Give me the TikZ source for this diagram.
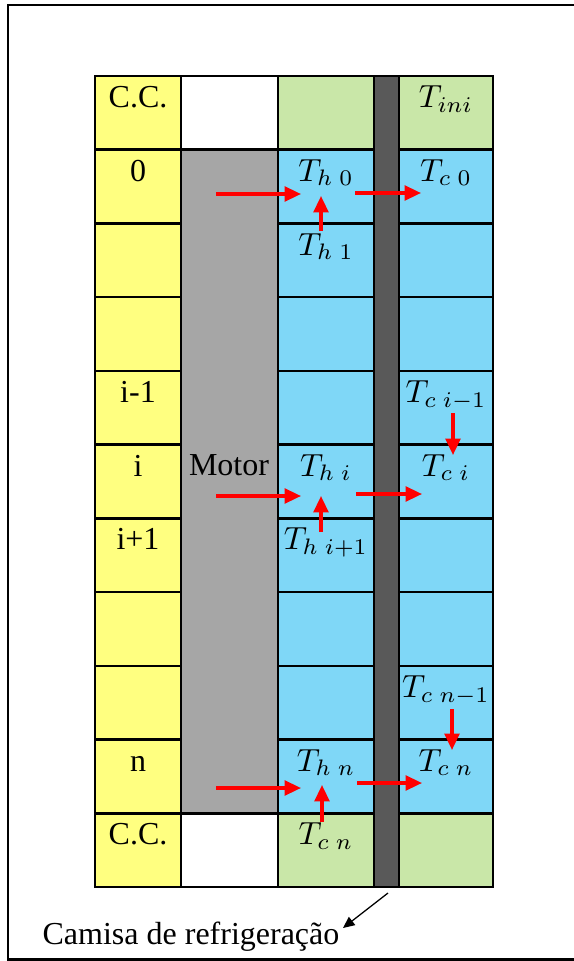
\documentclass[tikz,border=0pt]{standalone}
\usepackage{fontspec}
\setmainfont{Liberation Serif}
\usetikzlibrary{arrows.meta}
\definecolor{ccyellow}{HTML}{FFFF80}
\definecolor{ccgreen}{HTML}{C9E7A8}
\definecolor{ccblue}{HTML}{7FD7F7}
\definecolor{motorgray}{HTML}{A6A6A6}
\definecolor{jacketgray}{HTML}{595959}
\definecolor{arrowred}{HTML}{FF0000}
\tikzset{
  gridline/.style={line width=0.8pt},
  framebox/.style={line width=0.65pt},
  lbl/.style={anchor=base, inner sep=0pt},
  heat/.style={draw=arrowred, line width=0.95pt, -{Triangle[length=5.1pt,width=4.6pt]}},
  pointer/.style={draw=black, line width=0.4pt, -{Triangle[length=3.6pt,width=3.2pt]}},
}
\begin{document}
\begin{tikzpicture}[x=0.3125pt,y=-0.3125pt]
\useasboundingbox (0,0) rectangle (574,961);
% outer frame (right side lies outside the picture)
\draw[framebox] (620,5) -- (8,5) -- (8,959.5) -- (620,959.5);
% fills
\def\rh{73.727}
\fill[ccyellow] (95,76) rectangle (181,887);
\fill[motorgray] (181,{76+\rh}) rectangle (278,{76+10*\rh});
\fill[ccgreen] (278,76) rectangle (374,{76+\rh});
\fill[ccblue] (278,{76+\rh}) rectangle (374,{76+10*\rh});
\fill[ccgreen] (278,{76+10*\rh}) rectangle (374,887);
\fill[jacketgray] (374,76) rectangle (399,887);
\fill[ccgreen] (399,76) rectangle (493,{76+\rh});
\fill[ccblue] (399,{76+\rh}) rectangle (493,{76+10*\rh});
\fill[ccgreen] (399,{76+10*\rh}) rectangle (493,887);
% grid lines
\foreach \k in {1,...,10}{
  \draw[gridline] (95,{76+\k*\rh}) -- (181,{76+\k*\rh});
  \draw[gridline] (278,{76+\k*\rh}) -- (374,{76+\k*\rh});
  \draw[gridline] (399,{76+\k*\rh}) -- (493,{76+\k*\rh});
}
\draw[gridline] (181,{76+\rh}) -- (278,{76+\rh});
\draw[gridline] (181,{76+10*\rh}) -- (278,{76+10*\rh});
\foreach \xx in {181,278,374,399}{
  \draw[gridline] (\xx,76) -- (\xx,887);
}
\draw[gridline] (95,76) rectangle (493,887);
% left column labels
\node[lbl] (cctop) at (138,107.5) {C.C.};
\node[lbl] (n0) at (138,181.2) {0};
\node[lbl] (nim1) at (138,402.4) {i-1};
\node[lbl] (ni) at (138,476.1) {i};
\node[lbl] (nip1) at (138,549.9) {i+1};
\node[lbl] (nn) at (138,771.1) {n};
\node[lbl] (ccbot) at (138,844.8) {C.C.};
\node[lbl] (motor) at (229,475.5) {Motor};
% hot side
\node[lbl] (th0) at (326,181.2) {$T_{h\;0}$};
\node[lbl] (th1) at (326,255) {$T_{h\;1}$};
\node[lbl] (thi) at (326,476.1) {$T_{h\;i}$};
\node[lbl] (thip1) at (326,549.9) {$T_{h\;i+1}$};
\node[lbl] (thn) at (326,771.1) {$T_{h\;n}$};
\node[lbl] (tcnb) at (326,844.8) {$T_{c\;n}$};
% cold side
\node[lbl] (tini) at (446,107.5) {$T_{ini}$};
\node[lbl] (tc0) at (446,181.2) {$T_{c\;0}$};
\node[lbl] (tcim1) at (446,402.4) {$T_{c\;i-1}$};
\node[lbl] (tci) at (446,476.1) {$T_{c\;i}$};
\node[lbl] (tcnm1) at (446,697.4) {$T_{c\;n-1}$};
\node[lbl] (tcn) at (446,771.1) {$T_{c\;n}$};
% arrow end points
\coordinate (m0s) at (216,194);   \coordinate (m0e) at (301,194);
\coordinate (w0s) at (355,193);   \coordinate (w0e) at (421,193);
\coordinate (u0s) at (321,231);   \coordinate (u0e) at (321,196);
\coordinate (mis) at (216,496);   \coordinate (mie) at (301,496);
\coordinate (wis) at (356,494);   \coordinate (wie) at (422,494);
\coordinate (uis) at (321,532);   \coordinate (uie) at (321,496);
\coordinate (dis) at (453,413);   \coordinate (die) at (453,455);
\coordinate (mns) at (216,788);   \coordinate (mne) at (301,788);
\coordinate (wns) at (357,783);   \coordinate (wne) at (422,783);
\coordinate (uns) at (322,822);   \coordinate (une) at (322,785);
\coordinate (dns) at (452,709);   \coordinate (dne) at (452,750);
\foreach \a/\b in {m0s/m0e,w0s/w0e,u0s/u0e,mis/mie,wis/wie,uis/uie,dis/die,mns/mne,wns/wne,uns/une,dns/dne}{
  \draw[heat] (\a) -- (\b);
}
% jacket label
\node[lbl, anchor=base west] (camisa) at (42,944) {Camisa de refrigeração};
\coordinate (jk) at (388,893);
\coordinate (jt) at (343,928);
\draw[pointer] (jk) -- (jt);
\end{tikzpicture}
\end{document}
